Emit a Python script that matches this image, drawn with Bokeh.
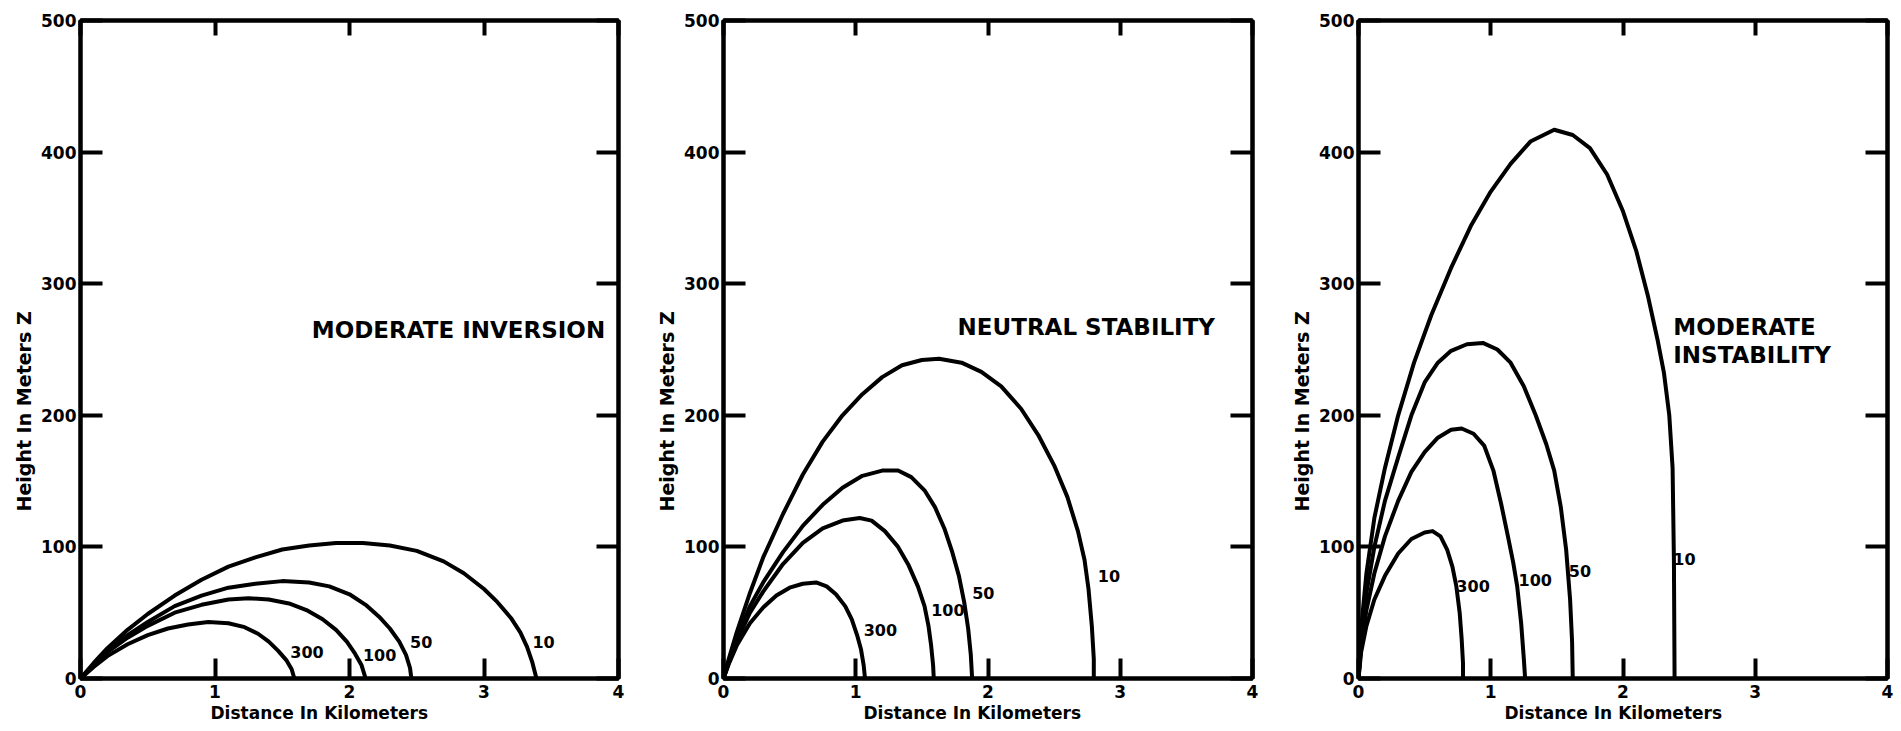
from bokeh.plotting import figure
from bokeh.layouts import row
from bokeh.models import Range1d, LinearAxis, FixedTicker, Label, Title, ColumnDataSource
from bokeh.embed import file_html
from bokeh.resources import INLINE
from bokeh.core.properties import value

FONT = "DejaVu Sans"

# Plume envelope outlines: distance downwind (km) and height (m),
# one curve per labelled value (10, 50, 100, 300).

# ---- Moderate inversion ----
inv_10_x = [0, 0.1, 0.2, 0.35, 0.5, 0.7, 0.9, 1.1, 1.3, 1.5, 1.7, 1.9, 2.1, 2.3, 2.5, 2.7, 2.85, 3.0, 3.1, 3.2, 3.27, 3.32, 3.36, 3.39]
inv_10_y = [0, 12, 23, 37, 49, 63, 75, 85, 92, 98, 101, 103, 103, 101, 97, 89, 80, 68, 58, 46, 35, 24, 12, 0]
inv_50_x = [0, 0.1, 0.2, 0.35, 0.5, 0.7, 0.9, 1.1, 1.3, 1.5, 1.7, 1.85, 2.0, 2.12, 2.22, 2.3, 2.37, 2.42, 2.45, 2.46]
inv_50_y = [0, 11, 21, 33, 43, 55, 63, 69, 72, 74, 73, 70, 64, 56, 47, 38, 28, 18, 8, 0]
inv_100_x = [0, 0.1, 0.2, 0.35, 0.5, 0.7, 0.9, 1.1, 1.25, 1.4, 1.55, 1.68, 1.8, 1.9, 1.98, 2.04, 2.09, 2.12]
inv_100_y = [0, 10, 20, 31, 40, 50, 56, 60, 61, 60, 57, 52, 45, 37, 28, 19, 10, 0]
inv_300_x = [0, 0.1, 0.2, 0.35, 0.5, 0.65, 0.8, 0.95, 1.1, 1.22, 1.32, 1.4, 1.47, 1.53, 1.57, 1.59]
inv_300_y = [0, 9, 17, 26, 33, 38, 41, 43, 42, 39, 34, 28, 21, 14, 7, 0]

# ---- Neutral stability ----
neu_10_x = [0, 0.04, 0.1, 0.2, 0.3, 0.45, 0.6, 0.75, 0.9, 1.05, 1.2, 1.35, 1.5, 1.63, 1.8, 1.95, 2.1, 2.25, 2.38, 2.5, 2.6, 2.68, 2.73, 2.76, 2.785, 2.8, 2.8]
neu_10_y = [0, 15, 35, 65, 92, 125, 155, 180, 200, 216, 229, 238, 242, 243, 240, 233, 222, 205, 185, 162, 138, 112, 90, 68, 40, 15, 0]
neu_50_x = [0, 0.04, 0.1, 0.2, 0.3, 0.45, 0.6, 0.75, 0.9, 1.05, 1.2, 1.32, 1.42, 1.52, 1.6, 1.67, 1.73, 1.78, 1.82, 1.85, 1.87, 1.88]
neu_50_y = [0, 13, 30, 55, 73, 96, 116, 132, 145, 154, 158, 158, 153, 143, 130, 114, 96, 78, 58, 38, 18, 0]
neu_100_x = [0, 0.04, 0.1, 0.2, 0.3, 0.45, 0.6, 0.75, 0.9, 1.03, 1.12, 1.22, 1.32, 1.4, 1.47, 1.52, 1.55, 1.57, 1.585, 1.59]
neu_100_y = [0, 12, 28, 50, 66, 87, 103, 114, 120, 122, 120, 112, 100, 86, 70, 55, 40, 25, 10, 0]
neu_300_x = [0, 0.04, 0.1, 0.2, 0.3, 0.4, 0.5, 0.6, 0.7, 0.78, 0.85, 0.92, 0.97, 1.01, 1.04, 1.06, 1.07]
neu_300_y = [0, 11, 25, 42, 54, 63, 69, 72, 73, 70, 64, 55, 45, 33, 22, 10, 0]

# ---- Moderate instability ----
ins_10_x = [0, 0.02, 0.06, 0.12, 0.2, 0.3, 0.42, 0.55, 0.7, 0.85, 1.0, 1.15, 1.3, 1.48, 1.62, 1.75, 1.88, 2.0, 2.1, 2.19, 2.26, 2.31, 2.35, 2.375, 2.385, 2.39]
ins_10_y = [0, 38, 80, 122, 160, 200, 240, 276, 312, 344, 370, 391, 408, 417, 413, 403, 383, 355, 325, 290, 258, 232, 200, 160, 90, 0]
ins_50_x = [0, 0.02, 0.06, 0.12, 0.2, 0.3, 0.4, 0.5, 0.6, 0.7, 0.82, 0.94, 1.05, 1.15, 1.25, 1.34, 1.42, 1.48, 1.53, 1.57, 1.6, 1.615, 1.62]
ins_50_y = [0, 30, 65, 100, 135, 168, 200, 225, 240, 249, 254, 255, 250, 240, 222, 200, 178, 158, 130, 98, 60, 28, 0]
ins_100_x = [0, 0.02, 0.06, 0.12, 0.2, 0.3, 0.4, 0.5, 0.6, 0.7, 0.78, 0.87, 0.95, 1.02, 1.08, 1.13, 1.17, 1.2, 1.23, 1.25, 1.26]
ins_100_y = [0, 25, 52, 80, 108, 135, 157, 172, 183, 189, 190, 186, 177, 158, 132, 108, 88, 70, 42, 15, 0]
ins_300_x = [0, 0.02, 0.06, 0.12, 0.2, 0.3, 0.4, 0.5, 0.56, 0.62, 0.67, 0.71, 0.74, 0.765, 0.78, 0.79, 0.79]
ins_300_y = [0, 20, 40, 60, 78, 95, 106, 111, 112, 108, 98, 85, 70, 50, 30, 12, 0]

curve_tags = ["10", "50", "100", "300"]

x_ticks = [0, 1, 2, 3, 4]
y_ticks = [0, 100, 200, 300, 400, 500]

X_TITLE = "Distance In Kilometers"
Y_TITLE = "Height In Meters Z"


def make_panel(curves, tag_x, tag_y, titles, xlab_offset, left, frame_w, right):
    p = figure(width=left + frame_w + right, height=731,
               x_range=Range1d(0, 4), y_range=Range1d(0, 500),
               output_backend="svg", toolbar_location=None,
               min_border_left=left, min_border_right=right,
               min_border_top=20, min_border_bottom=53)
    p.grid.visible = False
    p.background_fill_color = "white"
    p.border_fill_color = "white"
    p.outline_line_color = "black"
    p.outline_line_width = 4

    # framing axes on the opposite sides, ticks only
    p.add_layout(LinearAxis(), "right")
    p.add_layout(LinearAxis(), "above")

    for ax in p.xaxis:
        ax.ticker = FixedTicker(ticks=x_ticks)
    for ax in p.yaxis:
        ax.ticker = FixedTicker(ticks=y_ticks)

    for ax in p.axis:
        ax.axis_line_width = 4
        ax.axis_line_color = "black"
        ax.major_tick_line_width = 4
        ax.major_tick_line_color = "black"
        ax.major_tick_out = 0
        ax.minor_tick_line_color = None
        ax.major_label_text_font = FONT
        ax.major_label_text_font_style = "bold"
        ax.major_label_text_font_size = "17px"
        ax.major_label_text_color = "black"

    p.xaxis[0].major_tick_in = 15   # top
    p.xaxis[1].major_tick_in = 20   # bottom
    for ax in p.yaxis:
        ax.major_tick_in = 22

    # the extra axes carry no labels
    for ax in (p.xaxis[0], p.yaxis[1]):
        ax.major_label_text_color = None
        ax.major_label_text_font_size = "1px"
        ax.major_label_standoff = 0

    p.below[0].major_label_standoff = 6
    p.left[0].major_label_standoff = 4

    # axis titles, placed as side titles so they can sit off-centre
    p.add_layout(Title(text=X_TITLE, align="left", offset=xlab_offset,
                       standoff=0, text_font=FONT, text_font_style="bold",
                       text_font_size="17px", text_color="black"), "below")
    p.add_layout(Title(text=Y_TITLE, align="left", offset=167,
                       standoff=7, text_font=FONT, text_font_style="bold",
                       text_font_size="19px", text_color="black"), "left")

    for xs, ys in curves:
        p.line(xs, ys, line_color="black", line_width=4,
               line_join="round", line_cap="round")

    src = ColumnDataSource(dict(x=tag_x, y=tag_y, text=curve_tags))
    p.text(x="x", y="y", text="text", source=src,
           text_font=value(FONT), text_font_style="bold",
           text_font_size="16px", text_color="black",
           text_align="left", text_baseline="middle")

    for text, tx, ty in titles:
        p.add_layout(Label(x=tx, y=ty, text=text, text_font=FONT,
                           text_font_style="bold", text_font_size="23px",
                           text_color="black", text_align="left",
                           text_baseline="middle"))
    return p


p1 = make_panel(
    [(inv_10_x, inv_10_y), (inv_50_x, inv_50_y), (inv_100_x, inv_100_y), (inv_300_x, inv_300_y)],
    [3.36, 2.45, 2.10, 1.56], [28, 28, 18, 20],
    [("MODERATE INVERSION", 1.72, 265)], 130,
    80, 538, 32)

p2 = make_panel(
    [(neu_10_x, neu_10_y), (neu_50_x, neu_50_y), (neu_100_x, neu_100_y), (neu_300_x, neu_300_y)],
    [2.83, 1.88, 1.57, 1.06], [78, 65, 52, 37],
    [("NEUTRAL STABILITY", 1.77, 267)], 140,
    72, 530, 33)

p3 = make_panel(
    [(ins_10_x, ins_10_y), (ins_50_x, ins_50_y), (ins_100_x, ins_100_y), (ins_300_x, ins_300_y)],
    [2.38, 1.59, 1.21, 0.74], [91, 82, 75, 70],
    [("MODERATE", 2.38, 267), ("INSTABILITY", 2.38, 246)], 146,
    70, 532, 14)

layout = row(p1, p2, p3, spacing=0)

open("out.html", "w").write(file_html(layout, INLINE))
